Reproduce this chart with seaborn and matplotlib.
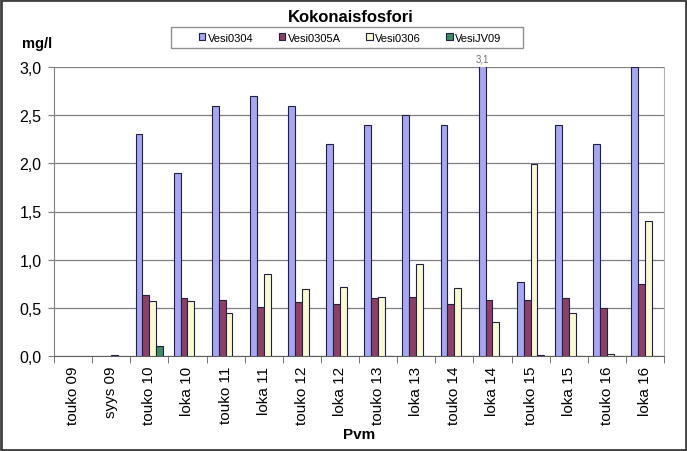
import numpy as np
import pandas as pd
import matplotlib
matplotlib.use("Agg")
import matplotlib.pyplot as plt
import seaborn as sns
from matplotlib.ticker import FuncFormatter, MultipleLocator
from matplotlib.patches import Rectangle

# Data
categories = ['touko 09', 'syys 09', 'touko 10', 'loka 10', 'touko 11', 'loka 11',
              'touko 12', 'loka 12', 'touko 13', 'loka 13', 'touko 14', 'loka 14',
              'touko 15', 'loka 15', 'touko 16', 'loka 16']
series_names = ['Vesi0304', 'Vesi0305A', 'Vesi0306', 'VesiJV09']
vesi0304 = [np.nan, np.nan, 2.3, 1.9, 2.6, 2.7, 2.6, 2.2, 2.4, 2.5, 2.4, 3.1, 0.77, 2.4, 2.2, 3.0]
vesi0305a = [np.nan, np.nan, 0.63, 0.60, 0.58, 0.51, 0.56, 0.54, 0.60, 0.61, 0.54, 0.58, 0.58, 0.60, 0.50, 0.75]
vesi0306 = [np.nan, 0.01, 0.57, 0.57, 0.45, 0.85, 0.70, 0.72, 0.61, 0.96, 0.71, 0.35, 1.99, 0.45, 0.02, 1.40]
vesijv09 = [np.nan, np.nan, 0.10, np.nan, np.nan, np.nan, 0.005, np.nan, 0.005, 0.005, 0.005, 0.005, 0.01, 0.005, 0.005, 0.005]
colors = ['#9999FF', '#993366', '#FFFFCC', '#339966']

df = pd.DataFrame({'Pvm': categories * 4,
                   'sarja': np.repeat(series_names, len(categories)),
                   'arvo': vesi0304 + vesi0305a + vesi0306 + vesijv09})

plt.rcParams['font.family'] = ['Liberation Sans', 'DejaVu Sans']
fig = plt.figure(figsize=(6.87, 4.52), dpi=100)
ax = fig.add_axes([54 / 687, 1 - 357 / 452, (664 - 54) / 687, (357 - 68) / 452])

sns.barplot(data=df, x='Pvm', y='arvo', hue='sarja', palette=colors, ax=ax,
            width=0.72, edgecolor='#202040', linewidth=0.8, legend=True, zorder=3)

ax.set_ylim(0, 3.0)
ax.yaxis.set_major_locator(MultipleLocator(0.5))
ax.yaxis.set_major_formatter(FuncFormatter(lambda v, p: f'{v:.1f}'.replace('.', ',')))
ax.grid(axis='y', color='#808080', linewidth=0.9, zorder=0)
ax.set_axisbelow(True)
ax.spines['top'].set_visible(False)
ax.spines['right'].set_color('#b0b0b0')
ax.spines['left'].set_color('#808080')
ax.spines['bottom'].set_color('#606060')
ax.tick_params(axis='y', labelsize=11.5, length=4, color='#808080', pad=5)
ax.tick_params(axis='x', labelsize=11, length=0, pad=7)
ax.set_xticks(range(len(categories)))
ax.set_xticklabels(categories, rotation=90)
# tick marks between categories
ax.set_xticks(np.arange(-0.5, len(categories), 1), minor=True)
ax.tick_params(axis='x', which='minor', length=5, color='#606060')
ax.set_xlim(-0.5, len(categories) - 0.5)

ax.set_xlabel('Pvm', fontsize=11, fontweight='bold', labelpad=2)
ax.set_ylabel('')
fig.text(22 / 687, 1 - 44 / 452, 'mg/l', fontsize=10.5, fontweight='bold', va='center', ha='left')
fig.text(351 / 687, 1 - 17 / 452, 'Kokonaisfosfori', fontsize=12, fontweight='bold', ha='center', va='center')

# value label for clipped bar
ax.text(11 - 0.27, 3.04, '3,1', fontsize=7, color='#707070', ha='center', va='bottom', clip_on=False)
for bar in ax.patches:
    bar.set_clip_on(True)

handles, labels = ax.get_legend_handles_labels()
ax.get_legend().remove()
leg = fig.legend(handles, labels, loc='center', bbox_to_anchor=(350 / 687, 1 - 38.5 / 452),
                 ncol=4, fontsize=8, frameon=False, handlelength=0.6, handleheight=0.6,
                 handletextpad=0.2, columnspacing=2.3)
# legend frame drawn separately (wide side padding like the original)
fig.patches.append(Rectangle((171 / 687, 1 - 49 / 452), (523 - 171) / 687, 21 / 452,
                             transform=fig.transFigure, fill=False, edgecolor='#909090', linewidth=1.0))

# outer frame
fig.patches.append(Rectangle((0.002, 0.003), 0.996, 0.994, transform=fig.transFigure,
                             fill=False, edgecolor='#404040', linewidth=2))

fig.savefig('out.png', dpi=100)
